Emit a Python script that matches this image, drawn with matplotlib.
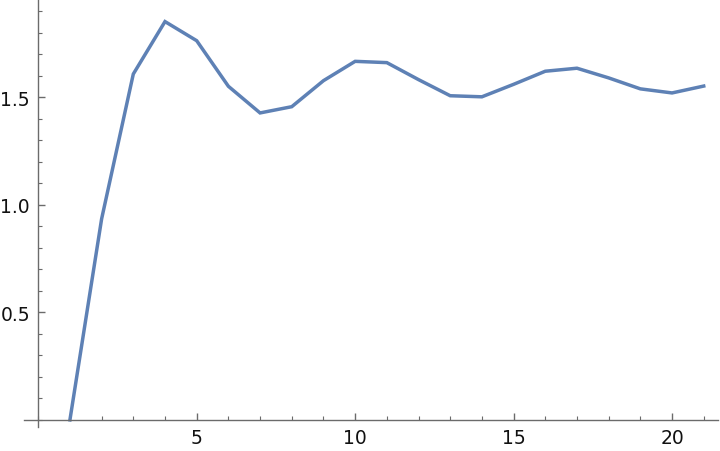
import numpy as np
import matplotlib.pyplot as plt
from matplotlib.ticker import MultipleLocator, FixedLocator

# values
x_vals = [1, 2, 3, 4, 5, 6, 7, 8, 9, 10, 11, 12, 13, 14, 15, 16, 17, 18, 19, 20, 21]
y_vals = [0.0, 0.935, 1.609, 1.853, 1.764, 1.552, 1.428, 1.457, 1.578, 1.668, 1.662,
          1.583, 1.508, 1.503, 1.561, 1.622, 1.636, 1.591, 1.540, 1.521, 1.553]
x_ticks = [5, 10, 15, 20]
y_ticks = [0.5, 1.0, 1.5]

axis_color = '#6b6b6b'

fig = plt.figure(figsize=(7.2, 4.52), dpi=100)
ax = fig.add_axes([0.0333, 0.0531, 0.9639, 0.9469])

ax.plot(x_vals, y_vals, color='#5E81B5', linewidth=2.5, solid_joinstyle='miter')

ax.set_xlim(-0.45, 21.45)
ax.set_ylim(-0.033, 1.958)

for side in ['top', 'right']:
    ax.spines[side].set_visible(False)
ax.spines['left'].set_position(('data', 0))
ax.spines['bottom'].set_position(('data', 0))
for side in ['left', 'bottom']:
    ax.spines[side].set_color(axis_color)
    ax.spines[side].set_linewidth(1.0)

ax.xaxis.set_major_locator(FixedLocator(x_ticks))
ax.xaxis.set_minor_locator(MultipleLocator(1))
ax.yaxis.set_major_locator(FixedLocator(y_ticks))
ax.yaxis.set_minor_locator(MultipleLocator(0.1))
ax.set_xticklabels([str(t) for t in x_ticks])
ax.set_yticklabels(['%.1f' % t for t in y_ticks])

ax.tick_params(axis='both', which='both', direction='in', colors=axis_color,
               labelcolor='#111111', labelsize=13.5)
ax.tick_params(axis='both', which='major', length=5, width=1.0)
ax.tick_params(axis='both', which='minor', length=3, width=0.8)
ax.tick_params(axis='x', which='major', pad=6)
ax.tick_params(axis='y', which='major', pad=6)

fig.savefig('out.png', dpi=100)
